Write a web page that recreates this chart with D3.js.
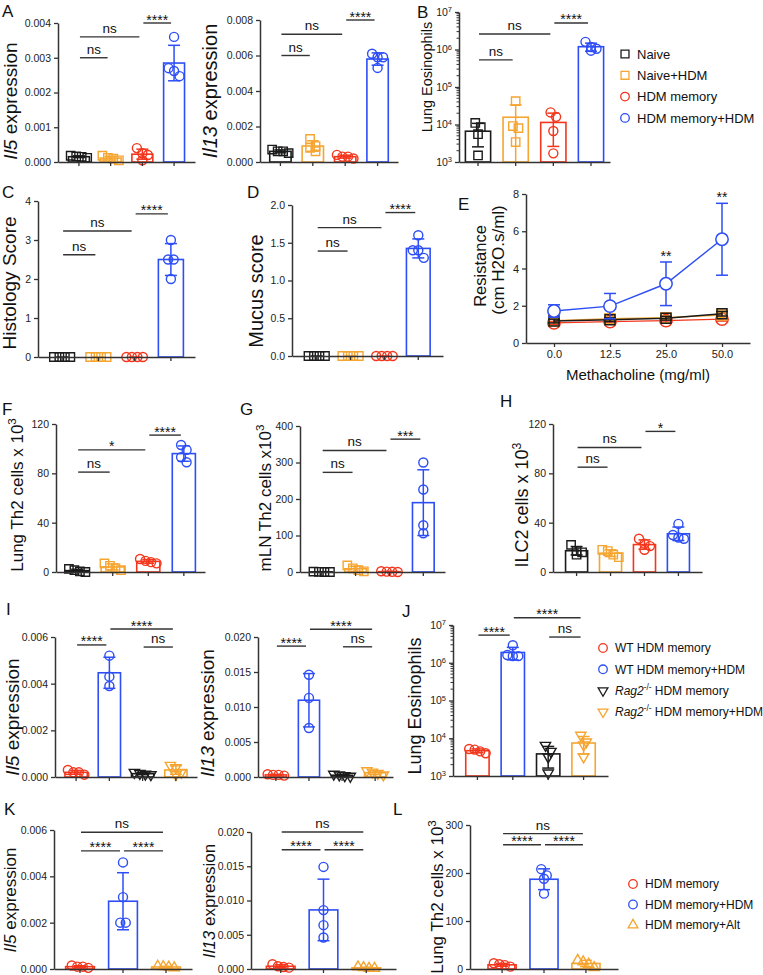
<!DOCTYPE html>
<html>
<head>
<meta charset="utf-8">
<script src="https://cdn.jsdelivr.net/npm/d3@7"></script>
<style>
  body { margin: 0; background: #fff; }
  svg { display: block; }
  text { font-family: 'Liberation Sans', Arial, sans-serif; }
</style>
</head>
<body>
<script>
// ---- data ----
const groupsAB = ["Naive", "Naive+HDM", "HDM memory", "HDM memory+HDM"];
const il5A = [[0.00012, 0.00015, 0.00016, 0.00018], [0.00005, 0.0001, 0.00012, 0.00018], [0.00005, 0.0002, 0.00025, 0.0004], [0.0036, 0.0027, 0.00262, 0.00247]];
const il13A = [[0.0005, 0.0006, 0.0006, 0.0007], [0.0006, 0.0008, 0.0009, 0.0013], [0.0002, 0.0003, 0.0003, 0.0004], [0.0061, 0.0059, 0.0059, 0.0053]];
const eosB = [[11000, 8500, 5500, 1500], [42000, 9100, 8000, 3400], [16000, 21000, 6700, 1700], [1170000, 930000, 1600000, 1050000]];
const histoC = [[0, 0, 0, 0], [0, 0, 0, 0], [0, 0, 0, 0], [3, 2.5, 2.5, 2]];
const mucusD = [[0, 0, 0, 0], [0, 0, 0, 0], [0, 0, 0, 0], [1.6, 1.4, 1.4, 1.3]];
const dosesE = ["0.0", "12.5", "25.0", "50.0"];
const resMeanE = [[1.18, 1.25, 1.33, 1.57], [1.2, 1.3, 1.36, 1.5], [1.08, 1.15, 1.2, 1.28], [1.72, 1.98, 3.18, 5.57]];
const resSdE = [[0.1, 0.1, 0.1, 0.12], [0.1, 0.1, 0.1, 0.12], [0.08, 0.08, 0.08, 0.1], [0.33, 0.68, 1.17, 1.93]];
const sigE = [["25.0", "**"], ["50.0", "**"]];
const th2LungF = [[0, 0.5, 1.5, 2.5], [1.5, 3, 5, 7], [7, 8, 9, 10.5], [103, 99, 93, 89]];
const th2MlnG = [[0, 0, 0.5, 1], [2, 5, 10, 18], [0, 0.5, 1, 2], [300, 226, 128, 106]];
const ilc2H = [[14, 16, 17, 22], [12, 14, 17, 18], [18, 21, 23, 27], [27, 28, 30, 39]];

const groupsIJ = ["WT HDM memory", "WT HDM memory+HDM", "Rag2 HDM memory", "Rag2 HDM memory+HDM"];
const il5I = [[0.0001, 0.0002, 0.0002, 0.0003], [0.0052, 0.0043, 0.0039], [0.0001, 0.00012, 0.00015, 0.0002], [0.0001, 0.0002, 0.0004, 0.0005]];
const il13I = [[0.0002, 0.0003, 0.0003, 0.0004], [0.0146, 0.0113, 0.007], [0.0001, 0.0002, 0.0003, 0.0004], [0.0003, 0.0005, 0.0007, 0.0009]];
const eosJ = [[5000, 4000, 4500, 5200], [2900000, 1500000, 1600000, 1500000], [6500, 4500, 3200, 1200], [12000, 8000, 6700, 3200]];

const groupsKL = ["HDM memory", "HDM memory+HDM", "HDM memory+Alt"];
const il5K = [[0.00005, 0.0001, 0.0001, 0.00015], [0.0046, 0.0031, 0.002, 0.002], [0.00005, 0.00008, 0.0001, 0.00012]];
const il13K = [[0.0002, 0.0003, 0.0004, 0.0007], [0.0149, 0.0086, 0.0064, 0.0046], [0.0001, 0.0001, 0.0002, 0.0003]];
const th2L = [[5, 8, 10, 12], [208, 195, 188, 157], [3, 10, 15, 18]];

// significance brackets: [from group, to group, label, height in data units]
const sigA5 = [[0, 1, "ns", 0.003], [0, 2, "ns", 0.0036], [2, 3, "****", 0.004]];
const sigA13 = [[0, 1, "ns", 0.006], [0, 2, "ns", 0.0072], [2, 3, "****", 0.008]];
const sigB = [[0, 1, "ns", 530000], [0, 2, "ns", 2600000], [2, 3, "****", 5100000]];
const sigC = [[0, 1, "ns", 2.62], [0, 2, "ns", 3.23], [2, 3, "****", 3.67]];
const sigD = [[0, 1, "ns", 1.39], [0, 2, "ns", 1.7], [2, 3, "****", 1.9]];
const sigF = [[0, 1, "ns", 81], [0, 2, "*", 99], [2, 3, "****", 111]];
const sigG = [[0, 1, "ns", 273], [0, 2, "ns", 333], [2, 3, "***", 364]];
const sigH = [[0, 1, "ns", 85], [0, 2, "ns", 101], [2, 3, "*", 114]];
const sigI5 = [[0, 1, "****", 0.00566], [1, 3, "****", 0.00634], [2, 3, "ns", 0.00557]];
const sigI13 = [[0, 1, "****", 0.0187], [1, 3, "****", 0.0211], [2, 3, "ns", 0.0186]];
const sigJ = [[0, 1, "****", 5400000], [1, 3, "****", 15500000], [2, 3, "ns", 4800000]];
const sigK5 = [[0, 1, "****", 0.0051], [1, 2, "****", 0.0051], [0, 2, "ns", 0.0059]];
const sigK13 = [[0, 1, "****", 0.0174], [1, 2, "****", 0.0174], [0, 2, "ns", 0.02]];
const sigL = [[0, 1, "****", 259], [1, 2, "****", 259], [0, 2, "ns", 282]];

// ---- styles ----
const cBlack = "#1b1b1b", cOrange = "#f6a530", cRed = "#f3361c", cBlue = "#2d4ef5";
const axisCol = "#333";
const sq = { type: d3.symbolSquare, size: 70 };
const ci = { type: d3.symbolCircle, size: 64 };
const triDown = { type: d3.symbolTriangle, size: 46, flip: true };
const triUp = { type: d3.symbolTriangle, size: 46 };
const colsAB = [cBlack, cOrange, cRed, cBlue];
const shapesAB = [sq, sq, ci, ci];
const colsIJ = [cRed, cBlue, cBlack, cOrange];
const shapesIJ = [ci, ci, triDown, triDown];
const colsKL = [cRed, cBlue, cOrange];
const shapesKL = [ci, ci, triUp];

const svg = d3.select("body").append("svg").attr("width", 763).attr("height", 975);

function addText(parts, x, y, size, rotate, anchor) {
  const t = svg.append("text").attr("font-size", size).attr("text-anchor", anchor || "middle").attr("fill", "#111");
  if (rotate) t.attr("transform", `translate(${x},${y}) rotate(-90)`).attr("dy", "0.35em");
  else t.attr("x", x).attr("y", y);
  let raised = false;
  parts.forEach(p => {
    const s = t.append("tspan").text(p.t);
    if (p.i) s.attr("font-style", "italic");
    if (p.sup) { s.attr("font-size", size * 0.68).attr("dy", -size * 0.42); raised = true; }
    else if (raised) { s.attr("dy", size * 0.42); raised = false; }
  });
  return t;
}

// place points of one group side by side where they would overlap
function swarm(vals, y, cx, step) {
  const pts = vals.map(v => ({ v, py: y(v) })).sort((a, b) => a.py - b.py);
  const out = [];
  let cl = [];
  const flush = () => {
    cl.forEach((p, k) => { p.px = cx + (k - (cl.length - 1) / 2) * step; out.push(p); });
    cl = [];
  };
  pts.forEach(p => { if (cl.length && p.py - cl[0].py >= 8) flush(); cl.push(p); });
  flush();
  return out;
}

function styleAxis(sel) {
  sel.select(".domain").attr("stroke", axisCol).attr("stroke-width", 1.5);
  sel.selectAll(".tick line").attr("stroke", axisCol).attr("stroke-width", 1.3);
  sel.selectAll(".tick text").attr("font-size", 10.5).attr("fill", "#222").attr("font-family", "'Liberation Sans', Arial, sans-serif");
}

function barPanel(o) {
  const g = svg.append("g");
  const n = o.data.length;
  const x = d3.scaleBand().domain(d3.range(n)).range([o.ax, o.xEnd]).paddingInner(o.pi).paddingOuter(o.po);
  const y = (o.log ? d3.scaleLog() : d3.scaleLinear()).domain(o.domain).range([o.y0, o.yTop]);
  const cx = i => x(i) + x.bandwidth() / 2;
  const base = o.domain[0];

  o.data.forEach((vals, i) => {
    const col = o.colors[i], shp = o.shapes[i];
    const m = d3.mean(vals), sd = d3.deviation(vals);
    g.append("rect").attr("x", x(i)).attr("width", x.bandwidth())
      .attr("y", y(m)).attr("height", y(base) - y(m))
      .attr("fill", "none").attr("stroke", col).attr("stroke-width", 1.6);
    swarm(vals, y, cx(i), o.step || 5.5).forEach(p => {
      g.append("path").attr("d", d3.symbol(shp.type, shp.size)())
        .attr("transform", `translate(${p.px},${p.py})${shp.flip ? " rotate(180)" : ""}`)
        .attr("fill", "none").attr("stroke", col).attr("stroke-width", 1.4);
    });
    const hi = m + sd, lo = m - sd;
    const yHi = y(hi), yLo = lo > base ? y(lo) : y(base);
    g.append("line").attr("x1", cx(i)).attr("x2", cx(i)).attr("y1", yHi).attr("y2", yLo)
      .attr("stroke", col).attr("stroke-width", 1.5);
    const caps = lo > base ? [yHi, yLo] : [yHi];
    caps.forEach(yy => g.append("line").attr("x1", cx(i) - 6).attr("x2", cx(i) + 6)
      .attr("y1", yy).attr("y2", yy).attr("stroke", col).attr("stroke-width", 1.5));
  });

  // axes
  const ya = d3.axisLeft(y).tickValues(o.ticks).tickSize(4).tickSizeOuter(0)
    .tickFormat(o.log ? () => "" : o.fmt);
  const yg = g.append("g").attr("transform", `translate(${o.ax},0)`).call(ya).call(styleAxis);
  if (o.log) {
    yg.selectAll(".tick text").each(function (d) {
      const t = d3.select(this);
      t.text("10");
      t.append("tspan").attr("dy", "-0.5em").attr("font-size", 7.5).text(Math.round(Math.log10(d)));
    });
    d3.range(Math.log10(o.domain[0]), Math.log10(o.domain[1])).forEach(k => {
      d3.range(2, 10).forEach(mm => {
        g.append("line").attr("x1", o.ax - 2.5).attr("x2", o.ax).attr("y1", y(mm * Math.pow(10, k))).attr("y2", y(mm * Math.pow(10, k)))
          .attr("stroke", axisCol).attr("stroke-width", 1);
      });
    });
  }
  g.append("g").attr("transform", `translate(0,${o.y0})`)
    .call(d3.axisBottom(x).tickFormat("").tickSize(4).tickSizeOuter(0)).call(styleAxis);

  // significance
  o.sig.forEach(([i, j, lab, v]) => {
    const x1 = cx(i) + 1, x2 = cx(j) - 3, yy = y(v);
    g.append("line").attr("x1", x1).attr("x2", x2).attr("y1", yy).attr("y2", yy)
      .attr("stroke", axisCol).attr("stroke-width", 1.4);
    g.append("text").attr("x", (x1 + x2) / 2).attr("y", lab === "ns" ? yy - 4 : yy + 1.5)
      .attr("text-anchor", "middle").attr("font-size", lab === "ns" ? 13.5 : 14).attr("fill", "#111").text(lab);
  });

  addText(o.label, o.lx, o.ly, o.lsize, true);
}

const fmt3 = d3.format(".3f"), fmt1 = d3.format(".1f"), fmtD = d3.format("d");
const il5Lab = [{ t: "Il5", i: true }, { t: " expression" }];
const il13Lab = [{ t: "Il13", i: true }, { t: " expression" }];
const th2Lab = [{ t: "Lung Th2 cells x 10" }, { t: "3", sup: true }];

barPanel({ data: il5A, colors: colsAB, shapes: shapesAB, sig: sigA5, ax: 58, xEnd: 195, pi: 0.34, po: 0.33, y0: 162, yTop: 23, domain: [0, 0.004], ticks: [0, 0.001, 0.002, 0.003, 0.004], fmt: fmt3, label: il5Lab, lx: 10, ly: 101, lsize: 19 });
barPanel({ data: il13A, colors: colsAB, shapes: shapesAB, sig: sigA13, ax: 260, xEnd: 398, pi: 0.34, po: 0.3, y0: 162, yTop: 20, domain: [0, 0.008], ticks: [0, 0.002, 0.004, 0.006, 0.008], fmt: fmt3, label: il13Lab, lx: 210, ly: 91, lsize: 20 });
barPanel({ data: eosB, colors: colsAB, shapes: shapesAB, sig: sigB, log: true, ax: 459, xEnd: 610, pi: 0.33, po: 0.17, y0: 162, yTop: 12, domain: [1e3, 1e7], ticks: [1e3, 1e4, 1e5, 1e6, 1e7], label: [{ t: "Lung Eosinophils" }], lx: 427, ly: 77, lsize: 14.5 });
barPanel({ data: histoC, colors: colsAB, shapes: shapesAB, sig: sigC, ax: 38, xEnd: 195, pi: 0.31, po: 0.32, y0: 357, yTop: 201, domain: [0, 4], ticks: [0, 1, 2, 3, 4], fmt: fmtD, label: [{ t: "Histology Score" }], lx: 9, ly: 283, lsize: 19 });
barPanel({ data: mucusD, colors: colsAB, shapes: shapesAB, sig: sigD, ax: 292, xEnd: 443, pi: 0.3, po: 0.38, y0: 356, yTop: 205, domain: [0, 2], ticks: [0, 0.5, 1, 1.5, 2], fmt: fmt1, label: [{ t: "Mucus score" }], lx: 256, ly: 291, lsize: 20 });
barPanel({ data: th2LungF, colors: colsAB, shapes: shapesAB, sig: sigF, ax: 56, xEnd: 205, pi: 0.35, po: 0.27, y0: 572, yTop: 424, domain: [0, 120], ticks: [0, 40, 80, 120], fmt: fmtD, label: th2Lab, lx: 17, ly: 495, lsize: 17 });
barPanel({ data: th2MlnG, colors: colsAB, shapes: shapesAB, sig: sigG, ax: 300, xEnd: 445, pi: 0.36, po: 0.32, y0: 572, yTop: 426, domain: [0, 400], ticks: [0, 100, 200, 300, 400], fmt: fmtD, label: [{ t: "mLN Th2 cells x10" }, { t: "3", sup: true }], lx: 265, ly: 498, lsize: 17 });
barPanel({ data: ilc2H, colors: colsAB, shapes: shapesAB, sig: sigH, ax: 553, xEnd: 702, pi: 0.35, po: 0.37, y0: 572, yTop: 424, domain: [0, 120], ticks: [0, 40, 80, 120], fmt: fmtD, label: [{ t: "ILC2 cells x 10" }, { t: "3", sup: true }], lx: 522, ly: 505, lsize: 18 });
barPanel({ data: il5I, colors: colsIJ, shapes: shapesIJ, sig: sigI5, ax: 55, xEnd: 197, pi: 0.33, po: 0.3, y0: 777, yTop: 637, domain: [0, 0.006], ticks: [0, 0.002, 0.004, 0.006], fmt: fmt3, label: il5Lab, lx: 12, ly: 717, lsize: 19 });
barPanel({ data: il13I, colors: colsIJ, shapes: shapesIJ, sig: sigI13, ax: 258, xEnd: 393, pi: 0.36, po: 0.22, y0: 777, yTop: 637, domain: [0, 0.02], ticks: [0, 0.005, 0.01, 0.015, 0.02], fmt: fmt3, label: il13Lab, lx: 207, ly: 713, lsize: 19 });
barPanel({ data: eosJ, colors: colsIJ, shapes: shapesIJ, sig: sigJ, log: true, ax: 453, xEnd: 608, pi: 0.34, po: 0.36, y0: 776, yTop: 625, domain: [1e3, 1e7], ticks: [1e3, 1e4, 1e5, 1e6, 1e7], label: [{ t: "Lung Eosinophils" }], lx: 415, ly: 706, lsize: 18 });
barPanel({ data: il5K, colors: colsKL, shapes: shapesKL, sig: sigK5, ax: 54, xEnd: 192, pi: 0.33, po: 0.27, y0: 969, yTop: 830, domain: [0, 0.006], ticks: [0, 0.002, 0.004, 0.006], fmt: fmt3, label: il5Lab, lx: 10, ly: 900, lsize: 17 });
barPanel({ data: il13K, colors: colsKL, shapes: shapesKL, sig: sigK13, ax: 251, xEnd: 396, pi: 0.33, po: 0.36, y0: 969, yTop: 832, domain: [0, 0.02], ticks: [0, 0.005, 0.01, 0.015, 0.02], fmt: fmt3, label: il13Lab, lx: 209, ly: 901, lsize: 17 });
barPanel({ data: th2L, colors: colsKL, shapes: shapesKL, sig: sigL, ax: 470, xEnd: 618, pi: 0.33, po: 0.43, y0: 969, yTop: 825, domain: [0, 300], ticks: [0, 100, 200, 300], fmt: fmtD, label: th2Lab, lx: 437, ly: 897, lsize: 17 });

// ---- panel E: airway resistance ----
(function () {
  const g = svg.append("g");
  const x = d3.scalePoint().domain(dosesE).range([526, 750]).padding(0.5);
  const y = d3.scaleLinear().domain([0, 8]).range([343, 194]);
  const cols = [cBlack, cOrange, cRed, cBlue];
  const shp = [{ type: d3.symbolSquare, size: 100 }, { type: d3.symbolSquare, size: 100 }, { type: d3.symbolCircle, size: 120 }, { type: d3.symbolCircle, size: 120 }];
  const line = d3.line().x((d, k) => x(dosesE[k])).y(d => y(d));
  [2, 1, 0, 3].forEach(s => {
    g.append("path").attr("d", line(resMeanE[s])).attr("fill", "none").attr("stroke", cols[s]).attr("stroke-width", 1.4);
    resMeanE[s].forEach((m, k) => {
      const xx = x(dosesE[k]), sd = resSdE[s][k];
      g.append("line").attr("x1", xx).attr("x2", xx).attr("y1", y(m + sd)).attr("y2", y(m - sd)).attr("stroke", cols[s]).attr("stroke-width", 1.5);
      [m + sd, m - sd].forEach(v => g.append("line").attr("x1", xx - 6).attr("x2", xx + 6).attr("y1", y(v)).attr("y2", y(v)).attr("stroke", cols[s]).attr("stroke-width", 1.5));
      g.append("path").attr("d", d3.symbol(shp[s].type, shp[s].size)()).attr("transform", `translate(${xx},${y(m)})`)
        .attr("fill", "#fff").attr("fill-opacity", s === 3 ? 1 : 0).attr("stroke", cols[s]).attr("stroke-width", 1.5);
    });
  });
  sigE.forEach(([dose, lab]) => {
    const k = dosesE.indexOf(dose);
    g.append("text").attr("x", x(dose)).attr("y", y(resMeanE[3][k] + resSdE[3][k]) - 1)
      .attr("text-anchor", "middle").attr("font-size", 14).attr("fill", "#111").text(lab);
  });
  g.append("g").attr("transform", "translate(526,0)")
    .call(d3.axisLeft(y).tickValues([0, 2, 4, 6, 8]).tickSize(4).tickSizeOuter(0).tickFormat(fmtD)).call(styleAxis)
    .selectAll(".tick text").attr("font-size", 11);
  g.append("g").attr("transform", "translate(0,343)")
    .call(d3.axisBottom(x).tickSize(4).tickSizeOuter(0)).call(styleAxis)
    .selectAll(".tick text").attr("font-size", 11);
  addText([{ t: "Methacholine (mg/ml)" }], 638, 380, 15);
  addText([{ t: "Resistance" }], 480, 266, 16.5, true);
  addText([{ t: "(cm H2O.s/ml)" }], 498, 260, 17, true);
})();

// ---- legends ----
function legend(items, colors, shapes, x0, y0, dy, size) {
  items.forEach((it, k) => {
    const shp = shapes[k], yy = y0 + k * dy;
    svg.append("path").attr("d", d3.symbol(shp.type, shp.size * 0.9)())
      .attr("transform", `translate(${x0},${yy})${shp.flip ? " rotate(180)" : ""}`)
      .attr("fill", "none").attr("stroke", colors[k]).attr("stroke-width", 1.3);
    addText(it, x0 + 12, yy + size * 0.36, size, false, "start");
  });
}
legend(groupsAB.map(t => [{ t }]), colsAB, shapesAB, 625, 54, 21.3, 13);
legend([[{ t: "WT HDM memory" }], [{ t: "WT HDM memory+HDM" }],
  [{ t: "Rag2", i: true }, { t: "-/-", sup: true }, { t: " HDM memory" }],
  [{ t: "Rag2", i: true }, { t: "-/-", sup: true }, { t: " HDM memory+HDM" }]], colsIJ, shapesIJ, 603, 648, 21.3, 12);
legend(groupsKL.map(t => [{ t }]), colsKL, shapesKL, 633, 884, 20.5, 12);

// ---- panel letters ----
const letters = [["A", 2, 17], ["B", 417, 18], ["C", 2, 198], ["D", 247, 198], ["E", 458, 210], ["F", 2, 415],
  ["G", 240, 415], ["H", 500, 407], ["I", 6, 615], ["J", 402, 617], ["K", 4, 815], ["L", 393, 815]];
letters.forEach(([t, x, y]) => svg.append("text").attr("x", x).attr("y", y).attr("font-size", 17).attr("fill", "#111").text(t));
</script>
</body>
</html>
